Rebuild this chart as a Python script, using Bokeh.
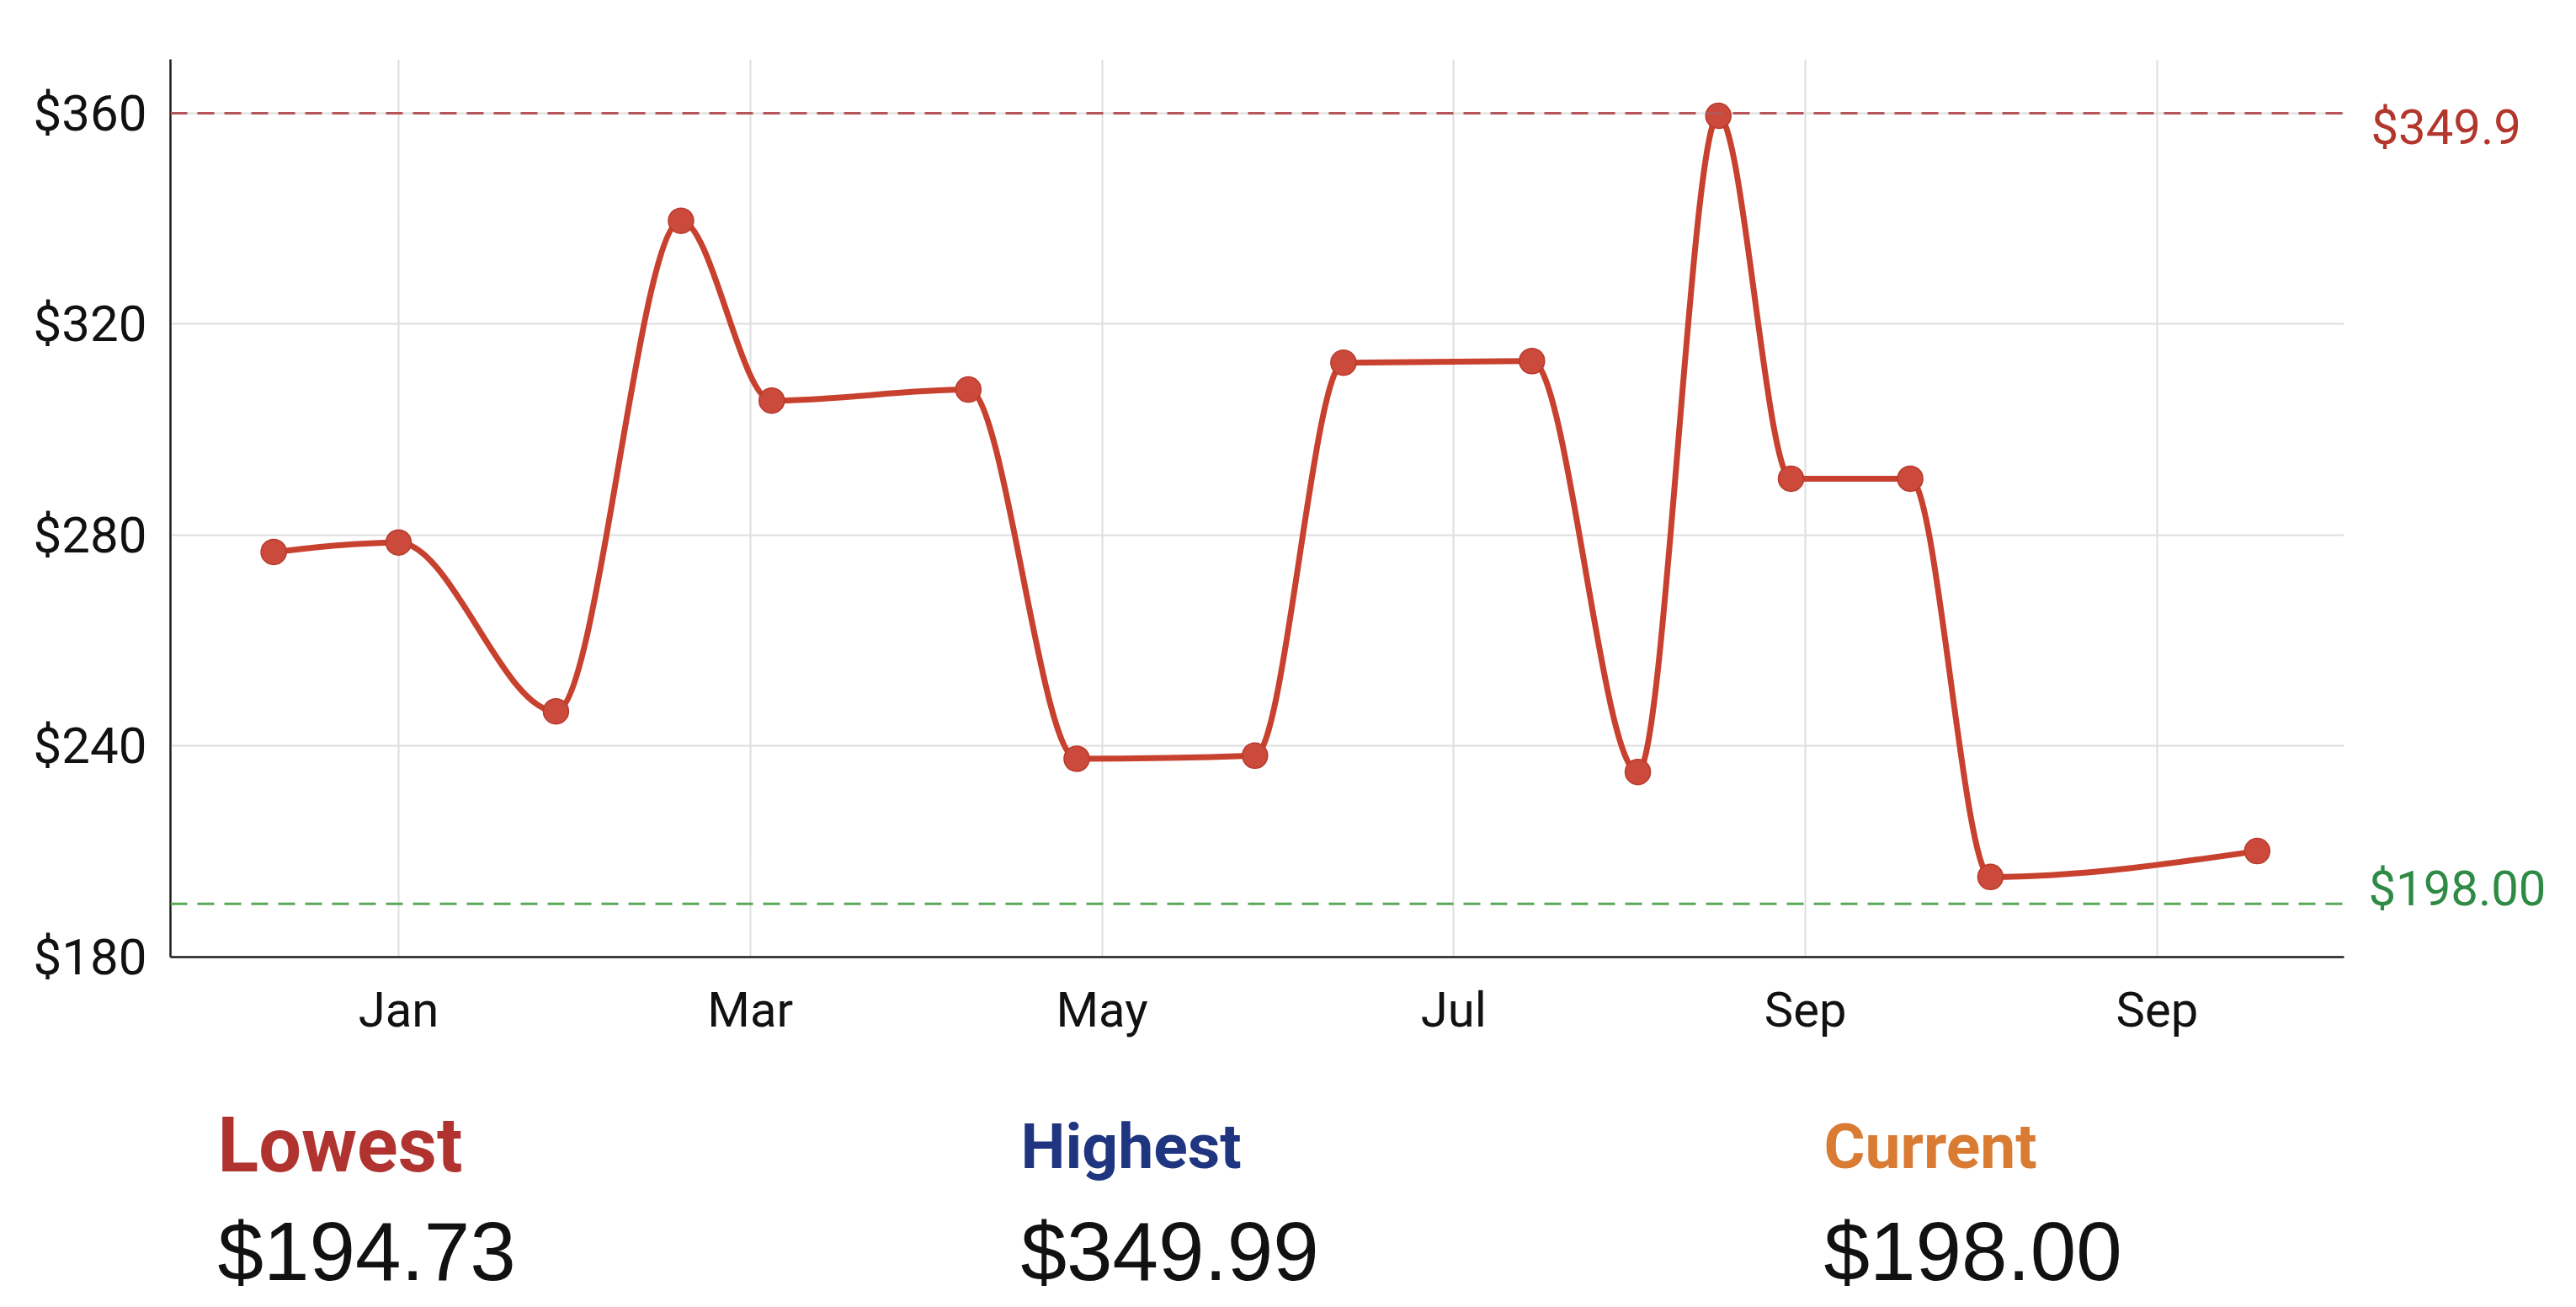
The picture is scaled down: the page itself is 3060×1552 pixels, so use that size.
import numpy as np
from bokeh.plotting import figure
from bokeh.models import ColumnDataSource, Range1d, FixedTicker, Span, LinearAxis
from bokeh.layouts import column
from bokeh.embed import file_html
from bokeh.resources import INLINE
from bokeh.core.properties import value

# ---------------- data ----------------
month_pos = [-0.71, 0.0, 0.895, 1.606, 2.122, 3.24, 3.856, 4.87, 5.373, 6.445,
             7.047, 7.505, 7.918, 8.596, 9.052, 10.569]
price = [276.8, 278.6, 246.6, 339.6, 305.5, 307.6, 237.6, 238.2, 312.7, 313.0,
         235.1, 359.5, 290.7, 290.7, 215.2, 220.1]
x_tick_pos = [0, 2, 4, 6, 8, 10]
x_tick_labels = ["Jan", "Mar", "May", "Jul", "Sep", "Sep"]
y_tick_pos = [200, 240, 280, 320, 360]
y_tick_labels = ["$180", "$240", "$280", "$320", "$360"]
ref_levels = [360.0, 210.1]
ref_label_pos = [357.3, 213.0]
ref_labels = ["$349.9", "$198.00"]
ref_line_colors = ["#b5575a", "#5aa85a"]
ref_text_colors = ["#b2362c", "#2f8a45"]
stat_names = ["Lowest", "Highest", "Current"]
stat_values = ["$194.73", "$349.99", "$198.00"]
stat_colors = ["#b03330", "#1f3580", "#d97b33"]
stat_name_sizes = ["90px", "75px", "75px"]

LINE = "#c8412f"
FONT = "Roboto"

# ------------- monotone cubic (d3 curveMonotoneX style) -------------
def monotone_tangents(x, y):
    x = np.asarray(x, float); y = np.asarray(y, float)
    n = len(x)
    h = np.diff(x)
    s = np.diff(y) / h
    t = np.zeros(n)
    for i in range(1, n - 1):
        h0, h1, s0, s1 = h[i - 1], h[i], s[i - 1], s[i]
        p_ = (s0 * h1 + s1 * h0) / (h0 + h1)
        t[i] = (np.sign(s0) + np.sign(s1)) * min(abs(s0), abs(s1), 0.5 * abs(p_))
    t[0] = (3 * s[0] - t[1]) / 2
    t[-1] = (3 * s[-1] - t[-2]) / 2
    return t

xa = np.asarray(month_pos, float)
ya = np.asarray(price, float)
tg = monotone_tangents(xa, ya)
dx = np.diff(xa)
bez = ColumnDataSource(dict(
    x0=xa[:-1], y0=ya[:-1], x1=xa[1:], y1=ya[1:],
    cx0=xa[:-1] + dx / 3, cy0=ya[:-1] + tg[:-1] * dx / 3,
    cx1=xa[1:] - dx / 3, cy1=ya[1:] - tg[1:] * dx / 3,
))

# ---------------- main chart ----------------
W = 3060
BL, BR = 202, 276
p = figure(width=W, height=1270, output_backend="svg", toolbar_location=None,
           title_location=None,
           x_range=Range1d(-1.297, 11.063), y_range=Range1d(200, 370.2),
           min_border_left=BL, min_border_right=BR, min_border_top=70,
           min_border_bottom=134)
p.outline_line_color = None

p.xaxis.ticker = FixedTicker(ticks=x_tick_pos)
p.xaxis.major_label_overrides = dict(zip(x_tick_pos, x_tick_labels))
p.yaxis.ticker = FixedTicker(ticks=y_tick_pos)
p.yaxis.major_label_overrides = dict(zip(y_tick_pos, y_tick_labels))
for ax in (p.xaxis, p.yaxis):
    ax.axis_line_color = "#1e1e1e"
    ax.axis_line_width = 2.5
    ax.major_tick_line_color = None
    ax.minor_tick_line_color = None
    ax.major_tick_out = 0
    ax.major_tick_in = 0
    ax.major_label_text_font = FONT
    ax.major_label_text_color = "#111111"
p.xaxis.major_label_text_font_size = "58px"
p.yaxis.major_label_text_font_size = "60px"
p.xaxis.major_label_standoff = 28
p.yaxis.major_label_standoff = 28

p.xgrid.ticker = FixedTicker(ticks=x_tick_pos)
p.ygrid.ticker = FixedTicker(ticks=y_tick_pos)
p.grid.grid_line_color = "#dedede"
p.grid.grid_line_width = 2

for lvl, lc in zip(ref_levels, ref_line_colors):
    p.add_layout(Span(location=lvl, dimension="width", line_color=lc,
                      line_width=3, line_dash="20 12"))

p.bezier(x0="x0", y0="y0", x1="x1", y1="y1", cx0="cx0", cy0="cy0",
         cx1="cx1", cy1="cy1", source=bez, line_color=LINE, line_width=7,
         line_cap="round")
p.scatter(month_pos, price, size=30, fill_color="#cc4a3b",
          line_color="#b83a2c", line_width=1.5)

# reference-line value labels: one right-hand axis per label
standoffs = [32, -184]
for pos, txt, tc, so in zip(ref_label_pos, ref_labels, ref_text_colors, standoffs):
    rax = LinearAxis(ticker=FixedTicker(ticks=[pos]),
                     major_label_overrides={pos: txt})
    rax.axis_line_color = None
    rax.major_tick_line_color = None
    rax.minor_tick_line_color = None
    rax.major_tick_in = 0
    rax.major_tick_out = 0
    rax.major_label_standoff = so
    rax.major_label_text_font = FONT
    rax.major_label_text_font_size = "58px"
    rax.major_label_text_color = tc
    p.add_layout(rax, "right")

# ---------------- stats panel ----------------
p2 = figure(width=W, height=282, output_backend="svg", toolbar_location=None,
            title_location=None,
            x_range=Range1d(-0.0587, 2.6478), y_range=Range1d(1.536, -0.72),
            min_border_left=BL, min_border_right=BR, min_border_top=0,
            min_border_bottom=0)
p2.axis.visible = False
p2.grid.visible = False
p2.outline_line_color = None

idx = list(range(len(stat_names)))
p2.text(x=idx, y=[0] * len(idx), text=stat_names, text_color=stat_colors,
        text_font=value(FONT), text_font_size=stat_name_sizes,
        text_font_style="bold", text_baseline="alphabetic", text_align="left")
p2.text(x=idx, y=[1] * len(idx), text=stat_values, text_color="#111111",
        text_font=value("Liberation Sans"), text_font_size="98px",
        text_baseline="alphabetic", text_align="left")

layout = column(p, p2, spacing=0)
open("out.html", "w").write(file_html(layout, INLINE))
